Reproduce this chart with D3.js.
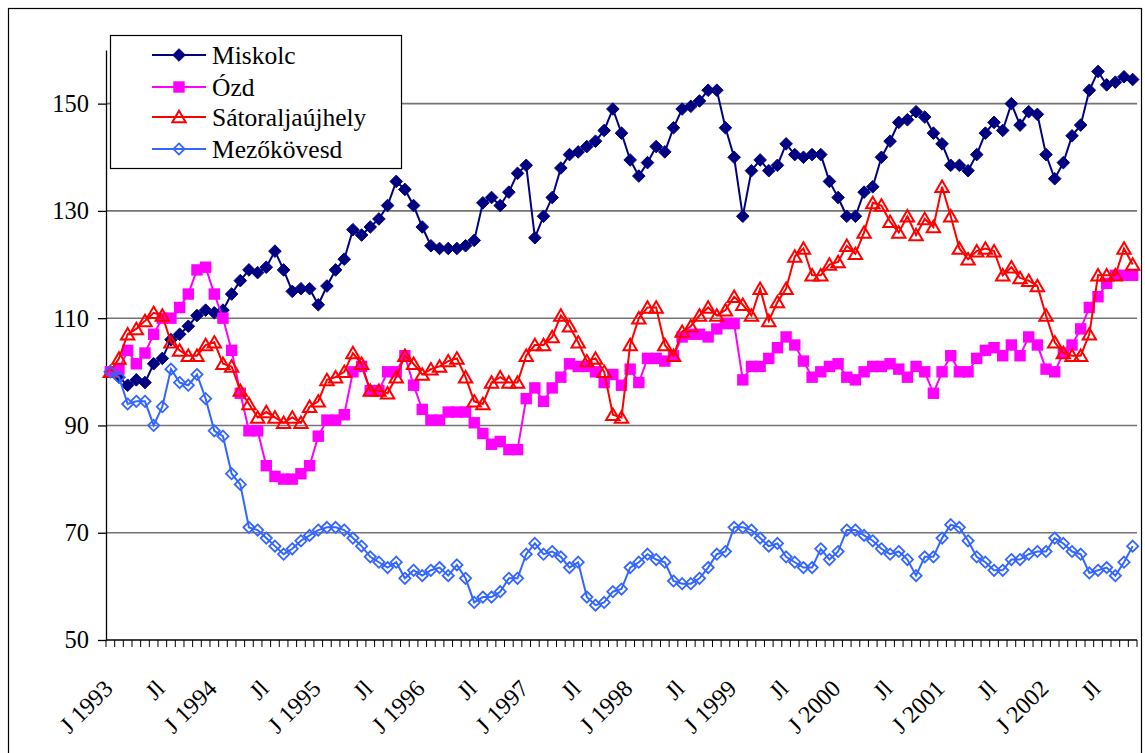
<!DOCTYPE html>
<html><head><meta charset="utf-8">
<script src="https://cdn.jsdelivr.net/npm/d3@7/dist/d3.min.js"></script>
<style>
html,body{margin:0;padding:0;background:#fff;}
svg text{fill:#000;}
</style></head>
<body>
<svg id="c" width="1145" height="753"></svg>
<script>
// ---- data (monthly index, Jan 1993 = 100) ----
const seriesNames = ["Miskolc", "Ózd", "Sátoraljaújhely", "Mezőkövesd"];
const miskolc = [100,99,97.5,98.5,98,101.5,102.5,106,107,108.5,110.5,111.5,111,111.5,114.5,117,119,118.5,119.5,122.5,
119,115,115.5,115.5,112.5,116,119,121,126.5,125.5,127,128.5,131,135.5,134,131,127,123.5,123,123,
123,123.5,124.5,131.5,132.5,131,133.5,137,138.5,125,129,132.5,138,140.5,141,142,143,145,149,144.5,139.5,136.5,
139,142,141,145.5,149,149.5,150.5,152.5,152.5,145.5,140,129,137.5,139.5,137.5,138.5,142.5,140.5,140,
140.5,140.5,135.5,132.5,129,129,133.5,134.5,140,143,146.5,147,148.5,147.5,144.5,142.5,138.5,138.5,
137.5,140.5,144.5,146.5,145,150,146,148.5,148,140.5,136,139,144,146,152.5,156,153.5,154,155,154.5];
const ozd = [100,100.5,104,101.5,103.5,107,110,110,112,114.5,119,119.5,114.5,110,104,96,89,89,82.5,80.5,
80,80,81,82.5,88,91,91,92,100,101,96.5,96.5,100,100,103,97.5,93,91,91,92.5,
92.5,92.5,90.5,88.5,86.5,87,85.5,85.5,95,97,94.5,97,99,101.5,101,101,100,98,99.5,97.5,100.5,98,
102.5,102.5,102,103,106.5,107,107,106.5,108,109,109,98.5,101,101,102.5,104.5,106.5,105,102,
99,100,101,101.5,99,98.5,100,101,101,101.5,100.5,99,101,100,96,100,103,100,
100,102.5,104,104.5,103,105,103,106.5,105,100.5,100,103.5,105,108,112,114,116.5,118,118,118];
const satoraljaujhely = [100,102.5,107,108,109.5,111,110.5,105.5,104,103,103,105,105.5,101.5,101,96.5,94,91.5,92.5,91.5,
90.5,91.5,90.5,93.5,94.5,98.5,99,100,103.5,101.5,96.5,96.5,96,99,103,101.5,99.5,100.5,101,102,
102.5,99,94.5,94,98,99,98,98,103,105,105,106.5,110.5,108.5,105.5,102,102.5,100,92,91.5,105,110,
112,112,105,103,107.5,108.5,110.5,112,110.5,111.5,114,112.5,110.5,115.5,109.5,113,115.5,121.5,123,
118,118,120,120.5,123.5,122,126,131.5,131,128,126,129,125.5,128.5,127,134.5,129,123,
121,122.5,123,122.5,118,119.5,117.5,117,116,110.5,105.5,103.5,103,103,107,118,118,118,123,120];
const mezokovesd = [100,99,94,94.5,94.5,90,93.5,100.5,98,97.5,99.5,95,89,88,81,79,71,70.5,69,67.5,
66,67,68.5,69.5,70.5,71,71,70.5,69,67.5,65.5,64.5,63.5,64.5,61.5,63,62,63,63.5,62,
64,61.5,57,58,58,59,61.5,61.5,66,68,66,66.5,65.5,63.5,64.5,58,56.5,57,59,59.5,63.5,64.5,
66,65,64.5,61,60.5,60.5,61.5,63.5,66,66.5,71,71,70.5,69,67.5,68,65.5,64.5,63.5,
63.5,67,65,66.5,70.5,70.5,69.5,68.5,67,66,66.5,65,62,65.5,65.5,69,71.5,71,
68.5,65.5,64.5,63,63,65,65,66,66.5,66.5,69,68,66.5,66,62.5,63,63.5,62,64.5,67.5];
const xTickLabels = ["J 1993","Jl","J 1994","Jl","J 1995","Jl","J 1996","Jl","J 1997","Jl",
"J 1998","Jl","J 1999","Jl","J 2000","Jl","J 2001","Jl","J 2002","Jl"];
const yTickValues = [50,70,90,110,130,150];
const yDomain = [50,160];

const FONT = "'Liberation Serif','Times New Roman',serif";

// categories: one per month
const months = d3.range(miskolc.length).map(i => (1993 + Math.floor(i/12)) + "-" + String(i%12+1).padStart(2,"0"));

const svg = d3.select("#c");
const L = 106, R = 1137, T = 50, B = 640;

const x = d3.scaleBand().domain(months).range([L, R]).padding(0);
const y = d3.scaleLinear().domain(yDomain).range([B, T]);
const cx = m => x(m) + x.bandwidth()/2;

// outer border
svg.append("rect").attr("x",8.5).attr("y",8.5).attr("width",1133).attr("height",780)
  .attr("fill","none").attr("stroke","#000").attr("stroke-width",1.2);

// gridlines
svg.append("g").selectAll("line").data(yTickValues.filter(v => v > yDomain[0])).join("line")
  .attr("x1", L).attr("x2", R).attr("y1", d => y(d)).attr("y2", d => y(d))
  .attr("stroke","#747474").attr("stroke-width",1.6);

// y axis
const yAxis = svg.append("g").attr("transform",`translate(${L},0)`)
  .call(d3.axisLeft(y).tickValues(yTickValues).tickSize(8).tickSizeOuter(0).tickPadding(9));
yAxis.attr("font-family", FONT).attr("font-size", 24.5);
yAxis.select(".domain").attr("stroke","#000").attr("stroke-width",1.3);
yAxis.selectAll(".tick line").attr("stroke","#000").attr("stroke-width",1.3);
yAxis.selectAll(".tick text").attr("fill","#000");

// x axis line and category ticks
svg.append("line").attr("x1",L).attr("x2",R).attr("y1",B).attr("y2",B).attr("stroke","#000").attr("stroke-width",1.3);
const boundaries = months.map(m => x(m)).concat([x.range()[1]]);
svg.append("g").selectAll("line").data(boundaries).join("line")
  .attr("x1", d => d).attr("x2", d => d).attr("y1", B).attr("y2", B + 7)
  .attr("stroke","#000").attr("stroke-width",1);

// x labels every 6 months
svg.append("g").selectAll("text").data(xTickLabels).join("text")
  .attr("transform", (d,i) => `translate(${cx(months[i*6]) - 2},${B + 44}) rotate(-45)`)
  .attr("text-anchor","end").attr("dy","0.35em")
  .attr("font-family", FONT).attr("font-size", 24).text(d => d);

// series
const diamond = r => `M0,${-r}L${r},0L0,${r}L${-r},0Z`;
const tri = r => `M0,${-r}L${r*1.08},${r*0.85}L${-r*1.08},${r*0.85}Z`;
const series = [
  {name: seriesNames[0], values: miskolc, color:"#000080", marker:"diamondF"},
  {name: seriesNames[1], values: ozd, color:"#FF00FF", marker:"square"},
  {name: seriesNames[2], values: satoraljaujhely, color:"#FF0000", marker:"triangle"},
  {name: seriesNames[3], values: mezokovesd, color:"#3366FF", marker:"diamondH"}
];
const line = d3.line().x((d,i) => cx(months[i])).y(d => y(d));

function drawMarker(sel, s) {
  if (s.marker === "diamondF") sel.append("path").attr("d", diamond(6.3)).attr("fill", s.color).attr("stroke", s.color).attr("stroke-width",1);
  else if (s.marker === "square") sel.append("rect").attr("x",-5.7).attr("y",-5.7).attr("width",11.4).attr("height",11.4).attr("fill", s.color);
  else if (s.marker === "triangle") sel.append("path").attr("d", tri(6.2)).attr("fill","none").attr("stroke", s.color).attr("stroke-width",2);
  else sel.append("path").attr("d", diamond(5.6)).attr("fill","none").attr("stroke", s.color).attr("stroke-width",1.8);
}

series.forEach(s => {
  const g = svg.append("g");
  g.append("path").datum(s.values).attr("d", line).attr("fill","none")
    .attr("stroke", s.color).attr("stroke-width", 2);
  g.selectAll("g.m").data(s.values).join("g").attr("class","m")
    .attr("transform", (d,i) => `translate(${cx(months[i])},${y(d)})`)
    .each(function(){ drawMarker(d3.select(this), s); });
});

// legend
const lg = svg.append("g");
lg.append("rect").attr("x",110.5).attr("y",35.5).attr("width",291).attr("height",133)
  .attr("fill","#fff").attr("stroke","#000").attr("stroke-width",1.2);
const rowY = [55, 87, 117, 149];
series.forEach((s, k) => {
  const r = lg.append("g").attr("transform",`translate(0,${rowY[k]})`);
  r.append("line").attr("x1",152).attr("x2",206).attr("y1",0).attr("y2",0).attr("stroke", s.color).attr("stroke-width",2);
  const mk = r.append("g").attr("transform","translate(179,0)");
  drawMarker(mk, s);
  r.append("text").attr("x",212).attr("y",0).attr("dy","0.35em")
    .attr("font-family", FONT).attr("font-size", 25.5).text(s.name);
});
</script>
</body></html>
